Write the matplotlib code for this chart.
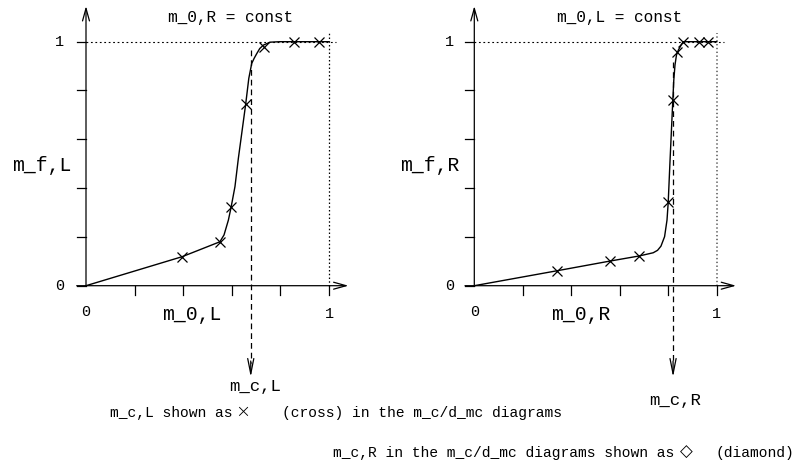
import matplotlib
matplotlib.use("Agg")
import matplotlib.pyplot as plt

W, H = 796, 466
MONO = "Liberation Mono"

# Left panel: m_f,L versus m_0,L at constant m_0,R
cross_L_x = [0.396, 0.551, 0.597, 0.657, 0.734, 0.857, 0.959]
cross_L_y = [0.119, 0.180, 0.321, 0.743, 0.977, 1.0, 1.0]
curve_L_x = [0.0, 0.396, 0.551, 0.568, 0.586, 0.597, 0.613, 0.627, 0.657,
             0.670, 0.682, 0.692, 0.702, 0.715, 0.730, 0.757, 0.798, 0.857,
             0.959, 1.0]
curve_L_y = [0.0, 0.119, 0.180, 0.208, 0.269, 0.321, 0.406, 0.522, 0.743,
             0.850, 0.911, 0.932, 0.950, 0.972, 0.986, 0.998, 1.0, 1.0,
             1.0, 1.0]
mc_L = 0.678

# Right panel: m_f,R versus m_0,R at constant m_0,L
cross_R_x = [0.340, 0.560, 0.681, 0.800, 0.819, 0.837, 0.862, 0.925, 0.963]
cross_R_y = [0.061, 0.101, 0.122, 0.342, 0.761, 0.957, 1.0, 1.0, 1.0]
curve_R_x = [0.0, 0.340, 0.560, 0.681, 0.738, 0.756, 0.770, 0.785, 0.795,
             0.800, 0.807, 0.819, 0.823, 0.828, 0.834, 0.842, 0.856, 0.862,
             0.925, 0.963, 1.0]
curve_R_y = [0.0, 0.061, 0.101, 0.122, 0.135, 0.145, 0.162, 0.201, 0.269,
             0.342, 0.502, 0.761, 0.843, 0.905, 0.945, 0.966, 0.991, 1.0,
             1.0, 1.0, 1.0]
mc_R = 0.820

tick_vals = [0.0, 0.2, 0.4, 0.6, 0.8, 1.0]

fig = plt.figure(figsize=(W / 100, H / 100), dpi=100)
fig.patch.set_facecolor("white")


def ftext(x, y, s, size, ha="center", va="center", family=MONO, **kw):
    fig.text(x / W, 1 - y / H, s, fontsize=size, ha=ha, va=va, family=family,
             color="black", **kw)


def panel(x0, y0, sx, sy, cx, cy, kx, ky, mc, mc_top, right):
    ax = fig.add_axes([x0 / W, 1 - y0 / H, sx / W, sy / H])
    ax.set_xlim(0, 1)
    ax.set_ylim(0, 1)
    ax.axis("off")
    px, py = 1 / sx, 1 / sy  # one pixel in data units
    lw = 0.9
    arrow = dict(arrowstyle="->,head_length=0.9,head_width=0.25",
                 lw=lw, color="black", shrinkA=0, shrinkB=0)
    # axes with open arrow heads
    ax.annotate("", xy=(0, 1.146), xytext=(0, 0), arrowprops=arrow,
                annotation_clip=False)
    ax.annotate("", xy=(1.08, 0), xytext=(-9.3 * px, 0), arrowprops=arrow,
                annotation_clip=False)
    # tick marks
    for t in tick_vals:
        ax.plot([-9.3 * px, 0], [t, t], color="black", lw=lw, clip_on=False)
        if t > 0:
            ax.plot([t, t], [0, -9.3 * py], color="black", lw=lw, clip_on=False)
    # reference lines at 1
    ax.plot([0, 1.03], [1, 1], color="black", lw=0.8, ls=(0, (1.6, 2.4)),
            clip_on=False)
    if right:
        ax.plot([1, 1], [0, 1.035], color="#555555", lw=1.1, ls=(0, (0.9, 1.6)),
                clip_on=False)
    else:
        ax.plot([1, 1], [0, 1.035], color="black", lw=0.9, ls=(0, (1.2, 1.8)),
                clip_on=False)
    # critical value marker: dashed drop line with arrow
    tip = (y0 - 377) * py
    ax.plot([mc, mc], [mc_top, tip + 14 * py], color="black", lw=0.9,
            ls=(0, (4.6, 3.2)), clip_on=False)
    ax.annotate("", xy=(mc, tip), xytext=(mc, tip + 16 * py),
                arrowprops=dict(arrowstyle="->,head_length=1.1,head_width=0.22",
                                lw=0.9, color="black", shrinkA=0, shrinkB=0),
                annotation_clip=False)
    # curve and computed points
    ax.plot(cx, cy, color="black", lw=1.0, clip_on=False, zorder=3)
    ax.plot(kx, ky, ls="none", marker="x", ms=7.0, mew=0.9, color="black",
            clip_on=False, zorder=4)
    return ax


panel(86, 285.7, 243, 244, curve_L_x, curve_L_y, cross_L_x, cross_L_y,
      mc_L, 0.967, False)
panel(474.3, 285.7, 242.4, 244, curve_R_x, curve_R_y, cross_R_x, cross_R_y,
      mc_R, 0.918, True)

# left panel texts
ftext(230.5, 17.3, "m_0,R = const", 11.6)
ftext(60, 285.7, "0", 11)
ftext(60, 41.7, "1", 11)
ftext(86, 312.5, "0", 11)
ftext(329, 313.5, "1", 11)
ftext(192.2, 314, "m_0,L", 14.2)
ftext(41.3, 165.7, "m_f,L", 14.2)
ftext(255, 387, "m_c,L", 12.5)

# right panel texts
ftext(619.2, 17.3, "m_0,L = const", 11.6)
ftext(449.3, 285.7, "0", 11)
ftext(449.3, 41.7, "1", 11)
ftext(474.3, 312.5, "0", 11)
ftext(716.7, 313.5, "1", 11)
ftext(580.8, 314, "m_0,R", 14.2)
ftext(430, 165.7, "m_f,R", 14.2)
ftext(674.7, 400, "m_c,R", 12.5)

# symbol legend lines
ftext(110, 413, "m_c,L shown as", 10.5, ha="left")
ftext(242.5, 411.5, "\u00d7", 13, family="DejaVu Sans", fontweight="light")
ftext(281.7, 413, "(cross) in the m_c/d_mc diagrams", 10.5, ha="left")
ftext(332.7, 452.5, "m_c,R in the m_c/d_mc diagrams shown as", 10.5, ha="left")
ftext(686.7, 451.5, "\u25c7", 12, family="DejaVu Sans")
ftext(715, 452.5, "(diamond)", 10.5, ha="left")

fig.savefig("out.png", dpi=100, facecolor="white")
